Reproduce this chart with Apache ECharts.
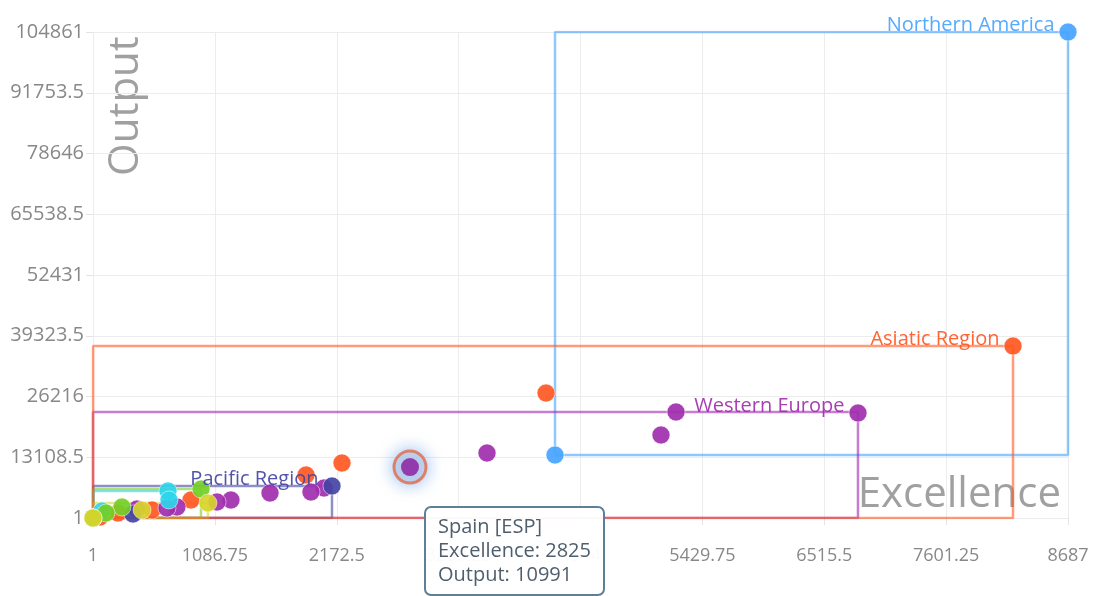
<!DOCTYPE html>
<html><head><meta charset="utf-8">
<style>html,body{margin:0;padding:0;overflow:hidden;background:#fff}#chart{width:1096px;height:596px}</style>
<script src="https://cdn.jsdelivr.net/npm/echarts@6/dist/echarts.min.js"></script>
</head><body><div id="chart"></div>
<script>
// ---- DATA ----
const xTickLabels = ['1','1086.75','2172.5','3258.25','4344','5429.75','6515.5','7601.25','8687'];
const yTickLabels = ['1','13108.5','26216','39323.5','52431','65538.5','78646','91753.5','104861'];
const xAxisName = 'Excellence';
const yAxisName = 'Output';

// [country, code, excellence, output]
const northernAmerica = [
  ['United States','USA',8687,104861],
  ['Canada','CAN',4117,13594]
];
const asiaticRegion = [
  ['China','CHN',8197,37112],
  ['Japan','JPN',4037,26971],
  ['South Korea','KOR',2219,11868],
  ['India','IND',1899,9279],
  ['Taiwan','TWN',874,3885],
  ['Singapore','SGP',527,1727],
  ['Malaysia','MYS',224,1080],
  ['Thailand','THA',63,217],
  ['Laos','LAO',2,3]
];
const westernEurope = [
  ['United Kingdom','GBR',6816,22656],
  ['Germany','DEU',5195,22872],
  ['France','FRA',5061,17909],
  ['Italy','ITA',3511,14025],
  ['Spain','ESP',2825,10991],
  ['Netherlands','NLD',2059,6474],
  ['Switzerland','CHE',1943,5611],
  ['Sweden','SWE',1578,5395],
  ['Belgium','BEL',1230,3885],
  ['Denmark','DNK',1106,3453],
  ['Austria','AUT',749,2374],
  ['Finland','FIN',660,2159],
  ['Portugal','PRT',393,1943],
  ['Liechtenstein','LIE',1,6]
];
const pacificRegion = [
  ['Australia','AUS',2130,6905],
  ['New Zealand','NZL',357,864],
  ['Fiji','FJI',3,12]
];
const easternEurope = [
  ['Russian Federation','RUS',669,5827],
  ['Poland','POL',678,3885],
  ['Czech Republic','CZE',81,1511],
  ['Moldova','MDA',2,20]
];
const latinAmerica = [
  ['Brazil','BRA',963,6258],
  ['Mexico','MEX',259,2374],
  ['Argentina','ARG',117,1080],
  ['Belize','BLZ',2,8]
];
const middleEast = [
  ['Iran','IRN',1025,3237],
  ['Turkey','TUR',438,1727],
  ['Yemen','YEM',1,1]
];
const highlighted = 'ESP';

// ---- STYLE ----
const regionStyles = {
  na:{name:'Northern America', data:northernAmerica, point:'#45a4ff', line:'rgba(69,164,255,0.6)', label:true},
  as:{name:'Asiatic Region', data:asiaticRegion, point:'#ff5722', line:'rgba(255,87,34,0.6)', label:true},
  we:{name:'Western Europe', data:westernEurope, point:'#a12ead', line:'rgba(156,39,176,0.6)', label:true},
  pa:{name:'Pacific Region', data:pacificRegion, point:'#4444a4', line:'rgba(68,68,164,0.6)', label:true},
  ee:{name:'Eastern Europe', data:easternEurope, point:'#2ed6ea', line:'rgba(40,210,230,0.6)', label:false},
  la:{name:'Latin America', data:latinAmerica, point:'#74cf26', line:'rgba(116,207,38,0.6)', label:false},
  me:{name:'Middle East', data:middleEast, point:'#d8d52c', line:'rgba(216,213,44,0.6)', label:false}
};
const boxOrder = ['na','we','pa','ee','la','me','as'];
const pointOrder = ['na','as','we','pa','ee','la','me'];
const FONT = 'Open Sans';

const chart = echarts.init(document.getElementById('chart'));
const series = [];
// bounding boxes
boxOrder.map(k => regionStyles[k]).forEach(r => {
  const xs = r.data.map(d => d[2]), ys = r.data.map(d => d[3]);
  const x0 = Math.min(...xs), x1 = Math.max(...xs), y0 = Math.min(...ys), y1 = Math.max(...ys);
  series.push({
    type:'line', name:r.name + ' box', silent:true, symbol:'none', z:1,
    lineStyle:{color:r.line, width:2.5}, animation:false,
    data:[[x0,y0],[x1,y0],[x1,y1],[x0,y1],[x0,y0]], tooltip:{show:false}
  });
});
// points
pointOrder.map(k => regionStyles[k]).forEach(r => {
  let maxI = 0;
  r.data.forEach((d,i) => { if (d[2] > r.data[maxI][2]) maxI = i; });
  series.push({
    type:'scatter', name:r.name, symbolSize:18, z:2, animation:false,
    itemStyle:{color:r.point, opacity:0.92, borderColor:'rgba(255,255,255,0.55)', borderWidth:1},
    data:r.data.map((d,i) => {
      const item = {name:d[0], value:[d[2], d[3], d[1]]};
      if (r.label && i === maxI) {
        item.label = {show:true, formatter:r.name, position:'left', distance:4, offset:[0,-7],
          color:r.point, fontSize:20, fontFamily:FONT};
      }
      return item;
    })
  });
});
// highlighted point
let hl = null;
Object.values(regionStyles).forEach(r => r.data.forEach(d => { if (d[1] === highlighted) hl = d; }));
const ringIndex = series.length;
series.push({
  type:'scatter', name:'highlight', symbolSize:32, z:3, animation:false,
  itemStyle:{color:'rgba(196,210,230,0.9)', borderColor:'#e2694b', borderWidth:3,
    shadowBlur:16, shadowColor:'rgba(110,165,235,0.9)'},
  data:[{name:hl[0], value:[hl[2], hl[3], hl[1]]}]
});
series.push({
  type:'scatter', name:'highlight dot', symbolSize:18, z:4, silent:true, animation:false,
  itemStyle:{color:'#8d1c9f'}, data:[[hl[2], hl[3]]], tooltip:{show:false}
});

const axisCommon = {
  type:'value',
  splitLine:{show:true, lineStyle:{color:'#ececec', width:1}},
  axisLine:{show:false},
  axisTick:{show:true, length:7, lineStyle:{color:'#e4e4e4'}},
};

chart.setOption({
  animation:false,
  grid:{left:93, right:28, top:32, bottom:78},
  xAxis:Object.assign({}, axisCommon, {
    min:+xTickLabels[0], max:+xTickLabels[xTickLabels.length-1],
    interval:xTickLabels[1]-xTickLabels[0],
    axisLabel:{margin:29, color:'#888', fontSize:18, fontFamily:FONT,
      formatter:(v,i) => xTickLabels[i] !== undefined ? xTickLabels[i] : String(v)}
  }),
  yAxis:Object.assign({}, axisCommon, {
    min:+yTickLabels[0], max:+yTickLabels[yTickLabels.length-1],
    interval:yTickLabels[1]-yTickLabels[0],
    axisLabel:{margin:9, color:'#888', fontSize:20, fontFamily:FONT,
      formatter:(v,i) => yTickLabels[i] !== undefined ? yTickLabels[i] : String(v)}
  }),
  graphic:[
    {type:'text', x:126, y:176, rotation:Math.PI/2, z:0, silent:true,
      style:{text:yAxisName, fontSize:42, fontFamily:FONT, fill:'rgba(120,120,120,0.7)',
        align:'left', verticalAlign:'middle', textAlign:'left', textVerticalAlign:'middle'}},
    {type:'text', x:1061, y:495, z:0, silent:true,
      style:{text:xAxisName, fontSize:42, fontFamily:FONT, fill:'rgba(120,120,120,0.7)',
        align:'right', verticalAlign:'middle', textAlign:'right', textVerticalAlign:'middle'}}
  ],
  tooltip:{
    trigger:'item', triggerOn:'none', alwaysShowContent:true, showDelay:0, hideDelay:0,
    transitionDuration:0, position:[424,506],
    backgroundColor:'rgba(255,255,255,0.96)', borderColor:'#5f7f96', borderWidth:2, borderRadius:7,
    padding:[6,12,8,12], extraCssText:'box-shadow:none;',
    textStyle:{color:'#4f5e6d', fontSize:20, fontFamily:FONT, lineHeight:24},
    formatter:p => `${p.name} [${p.value[2]}]<br/>${xAxisName}: ${p.value[0]}<br/>${yAxisName}: ${p.value[1]}`
  },
  series:series
});
chart.dispatchAction({type:'showTip', seriesIndex:ringIndex, dataIndex:0});
</script></body></html>
